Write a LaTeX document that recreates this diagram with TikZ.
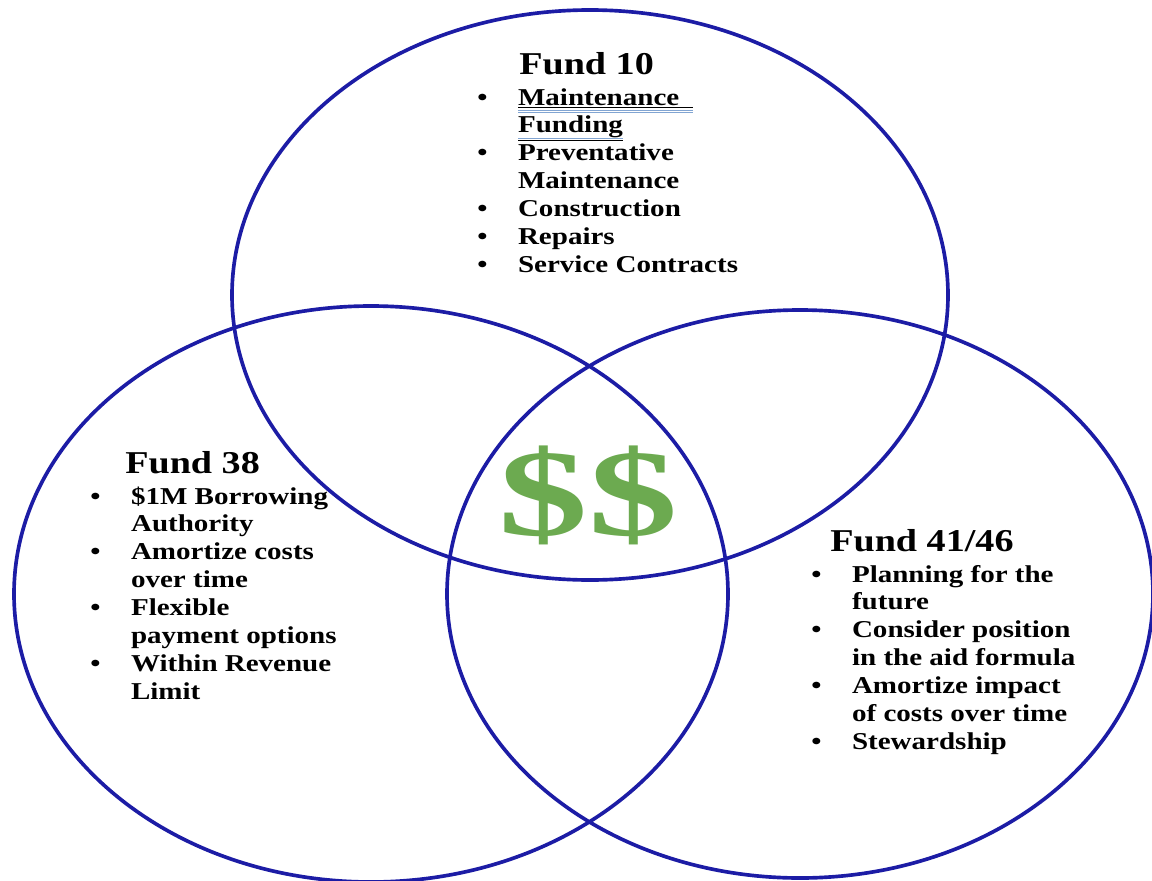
\documentclass[tikz,border=0pt]{standalone}
\usepackage{fontspec}
\setmainfont[FakeStretch=1.2]{Liberation Serif}
\newfontfamily\dollarfont[FakeStretch=1.45]{Liberation Serif}
\definecolor{ringblue}{RGB}{28,28,165}
\definecolor{cashgreen}{RGB}{108,170,80}
\definecolor{linkblue}{RGB}{130,165,210}
\newcommand\fundtitle{\fontsize{22.6}{26}\selectfont\bfseries}
\newcommand\fundlist{\fontsize{17.2}{19.9}\selectfont\bfseries}
\newcommand\linkul[1]{\setbox0\hbox{#1}\rlap{\color{linkblue}\rule[-4.2pt]{\wd0}{0.6pt}\llap{\rule[-5.4pt]{\wd0}{0.6pt}}}\underline{#1}}
\tikzset{
  ring/.style={draw=ringblue, line width=2.6pt},
  title/.style={anchor=base west, inner sep=0pt, font=\fundtitle},
  items/.style={anchor=base west, inner sep=0pt, font=\fundlist}
}
\begin{document}
\begin{tikzpicture}[x=0.025cm, y=-0.025cm]
            \fill[white] (0,0) rectangle (1152,881);
            \useasboundingbox (0,0) rectangle (1152,881);
            \clip (0,0) rectangle (1152,881);
            \coordinate (F10) at (590,295);
            \coordinate (F38) at (371,594);
            \coordinate (F41) at (800,594);
            \draw[ring] (F10) ellipse [x radius=358, y radius=285];
            \draw[ring] (F38) ellipse [x radius=357, y radius=288];
            \draw[ring] (F41) ellipse [x radius=353, y radius=284];
            % Fund 10
            \node[title] (t10) at (519,74) {Fund 10};
            \node[items] (l10) at (477,105) {\begin{tabular}[t]{@{}p{29pt}@{}l@{}}
              \textbullet & \linkul{Maintenance\hspace{10pt}}\\
                          & \linkul{Funding}\\
              \textbullet & Preventative\\
                          & Maintenance\\
              \textbullet & Construction\\
              \textbullet & Repairs\\
              \textbullet & Service Contracts
            \end{tabular}};
            % Fund 38
            \node[title] (t38) at (125,473) {Fund 38};
            \node[items] (l38) at (90,504) {\begin{tabular}[t]{@{}p{29pt}@{}l@{}}
              \textbullet & \$1M Borrowing\\
                          & Authority\\
              \textbullet & Amortize costs\\
                          & over time\\
              \textbullet & Flexible\\
                          & payment options\\
              \textbullet & Within Revenue\\
                          & Limit
            \end{tabular}};
            % Fund 41/46
            \node[title] (t41) at (830,551) {Fund 41/46};
            \node[items] (l41) at (811,582) {\begin{tabular}[t]{@{}p{29pt}@{}l@{}}
              \textbullet & Planning for the\\
                          & future\\
              \textbullet & Consider position\\
                          & in the aid formula\\
              \textbullet & Amortize impact\\
                          & of costs over time\\
              \textbullet & Stewardship
            \end{tabular}};
            % centre
            \node[text=cashgreen, font=\dollarfont\bfseries\fontsize{88}{90}\selectfont, inner sep=0pt] (cash) at (588,495) {\$\$};
\end{tikzpicture}
\end{document}
